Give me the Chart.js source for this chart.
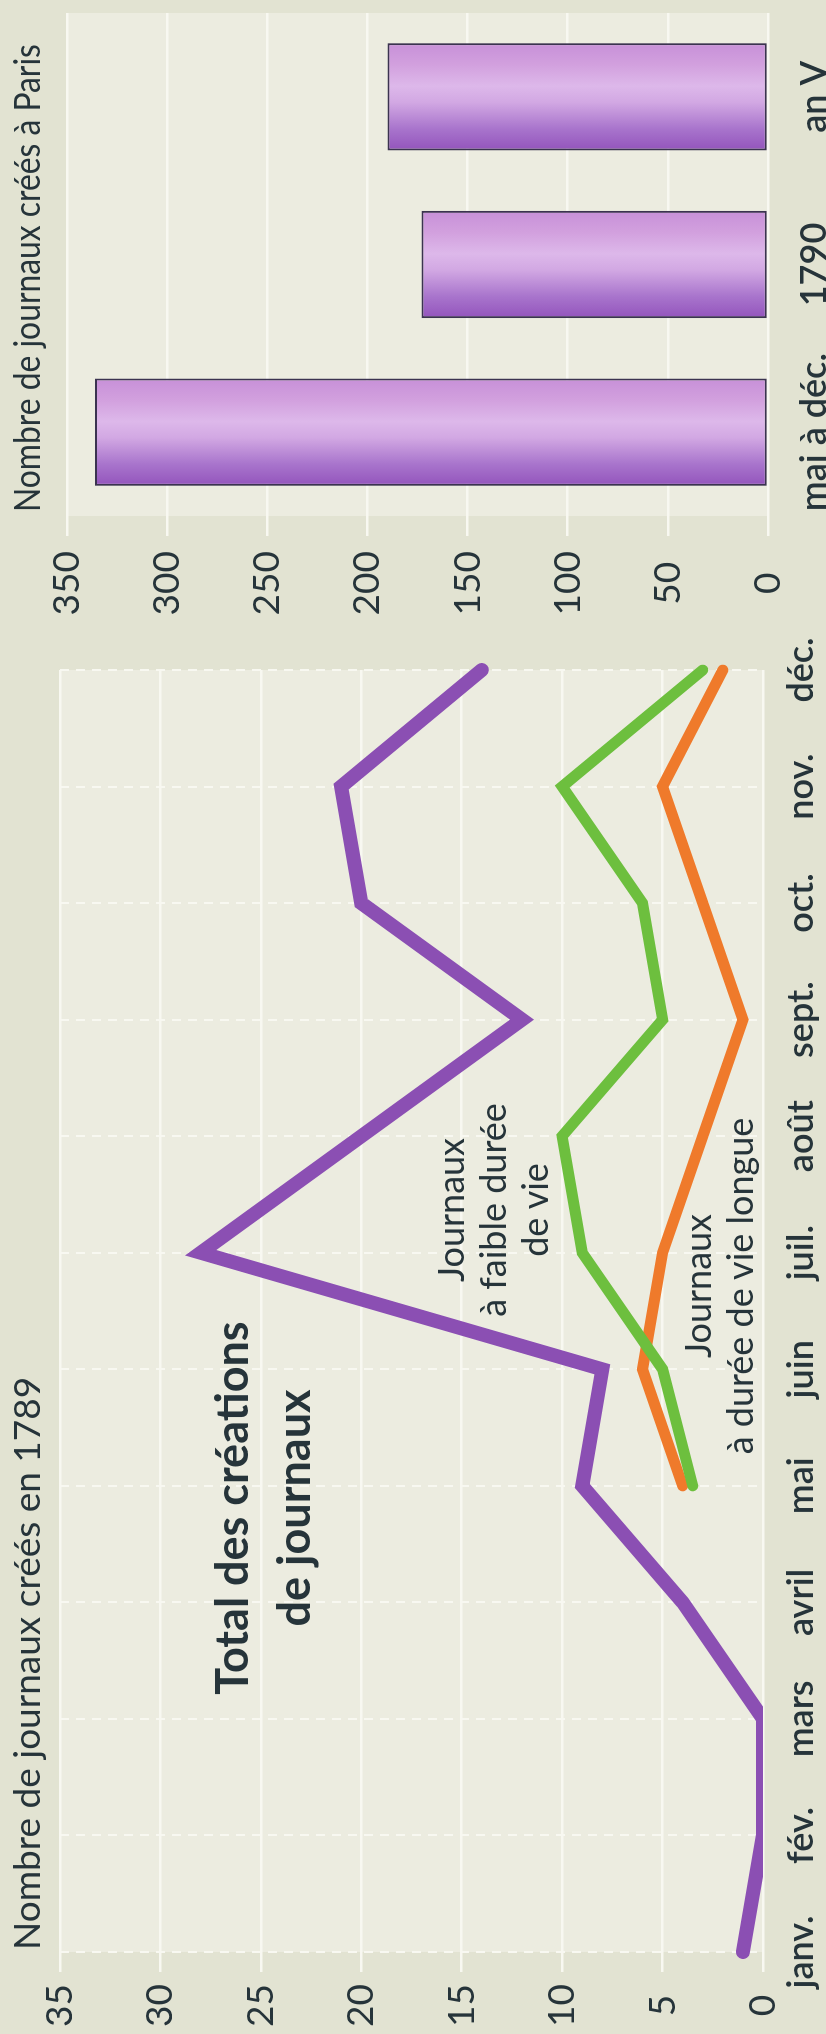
<!DOCTYPE html>
<html lang="fr">
<head>
<meta charset="utf-8">
<title>Journaux créés en 1789</title>
<script src="https://cdn.jsdelivr.net/npm/chart.js@4.4.1/dist/chart.umd.min.js"></script>
<style>
  html, body { margin: 0; padding: 0; }
  body {
    width: 826px; height: 2034px; overflow: hidden;
    background: #e2e3d2;
    font-family: Lato, 'Open Sans', sans-serif;
    color: #26343a;
  }
  /* the whole figure is laid out landscape, then turned a quarter to the left */
  #page {
    position: absolute; left: 0; top: 0;
    width: 2034px; height: 826px;
    transform-origin: 0 0;
    transform: translateY(2034px) rotate(-90deg);
  }
  canvas { position: absolute; top: 0; }
  #lineChart { left: 0; }
  #barChart { left: 1400px; }
  .txt { position: absolute; white-space: nowrap; }
  .title { font-size: 37px; line-height: 44px; top: 4px; }
  #t1 { left: 84px; }
  #t2 { left: 1522px; transform: scaleX(0.86); transform-origin: 0 0; }
  .note { text-align: center; }
  #n1 { font-weight: bold; font-size: 45px; line-height: 62px; width: 500px; left: 276px; top: 200px; }
  #n2 { font-size: 36px; line-height: 42px; width: 400px; left: 624px; top: 429px; }
  #n3 { font-size: 36px; line-height: 42px; width: 460px; left: 518px; top: 676px; }
</style>
</head>
<body>
<div id="page">
  <canvas id="lineChart" width="1420" height="826"></canvas>
  <canvas id="barChart" width="634" height="826"></canvas>
  <div class="txt title" id="t1">Nombre de journaux créés en 1789</div>
  <div class="txt title" id="t2">Nombre de journaux créés à Paris</div>
  <div class="txt note" id="n1">Total des créations<br>de journaux</div>
  <div class="txt note" id="n2">Journaux<br>à faible durée<br>de vie</div>
  <div class="txt note" id="n3">Journaux<br>à durée de vie longue</div>
</div>
<script>
// Values
const months = ['janv.', 'fév.', 'mars', 'avril', 'mai', 'juin', 'juil.', 'août', 'sept.', 'oct.', 'nov.', 'déc.'];
const totalCreations = [1, 0, 0, 4, 9, 8, 28, 20, 12, 20, 21, 14];
const faibleDuree = [null, null, null, null, 3.5, 5, 9, 10, 5, 6, 10, 3];
const dureeLongue = [null, null, null, null, 4, 6, 5, 3, 1, 3, 5, 2];
const lineTicks = [0, 5, 10, 15, 20, 25, 30, 35];

const periods = ['mai à déc.', '1790', 'an V'];
const parisCreations = [336, 173, 190];
const barTicks = [0, 50, 100, 150, 200, 250, 300, 350];

const inkColor = '#26343a';
const gridColor = '#f8f8f1';

Chart.defaults.font.family = "Lato, 'Open Sans', sans-serif";
Chart.defaults.color = inkColor;

// lighter panel behind each plot
const plotBackground = {
    id: 'plotBackground',
    beforeDraw(chart) {
        const { ctx, chartArea } = chart;
        ctx.save();
        ctx.fillStyle = '#ecece0';
        ctx.fillRect(chartArea.left, chartArea.top, chartArea.width, chartArea.height);
        ctx.restore();
    }
};

function useTicks(values) {
    return function (scale) {
        scale.ticks = values.map(v => ({ value: v }));
    };
}

// Line chart: newspapers created in 1789
new Chart(document.getElementById('lineChart'), {
    type: 'line',
    data: {
        labels: months,
        datasets: [
            { label: 'Total des créations de journaux', data: totalCreations, borderColor: '#8b4fb3', borderWidth: 14 },
            { label: 'Journaux à faible durée de vie', data: faibleDuree, borderColor: '#6dbf3e', borderWidth: 11 },
            { label: 'Journaux à durée de vie longue', data: dureeLongue, borderColor: '#ef7a2b', borderWidth: 11 }
        ]
    },
    options: {
        responsive: false,
        animation: false,
        devicePixelRatio: 1,
        events: [],
        layout: { padding: { top: 60, right: 56, left: 0, bottom: 0 } },
        elements: {
            point: { radius: 0 },
            line: { tension: 0, borderCapStyle: 'round', borderJoinStyle: 'miter', fill: false }
        },
        plugins: { legend: { display: false }, tooltip: { enabled: false } },
        scales: {
            x: {
                offset: false,
                grid: { color: gridColor, lineWidth: 2, drawTicks: false },
                border: { display: false, dash: [9, 7] },
                ticks: { font: { size: 36, weight: '600' }, padding: 17, autoSkip: false, maxRotation: 0 },
                afterFit(scale) { scale.height = 63; }
            },
            y: {
                min: 0,
                max: 35,
                afterBuildTicks: useTicks(lineTicks),
                grid: { color: gridColor, lineWidth: 2.5, tickLength: 20 },
                border: { display: false },
                ticks: { font: { size: 37 }, padding: 12, crossAlign: 'center' },
                afterFit(scale) { scale.width = 82; }
            }
        }
    },
    plugins: [plotBackground]
});

// Bar chart: newspapers created in Paris
function barFill(context) {
    const chart = context.chart;
    const xScale = chart.scales.x;
    if (!chart.chartArea || !xScale) {
        return '#c08ad6';
    }
    const center = xScale.getPixelForValue(context.dataIndex);
    const half = xScale.width / periods.length * 0.8 * 0.8 / 2;
    const gradient = chart.ctx.createLinearGradient(center - half, 0, center + half, 0);
    gradient.addColorStop(0, '#9354bc');
    gradient.addColorStop(0.2, '#a874cc');
    gradient.addColorStop(0.45, '#d2a8e3');
    gradient.addColorStop(0.6, '#ddb8ea');
    gradient.addColorStop(0.8, '#d2a0de');
    gradient.addColorStop(1, '#c790d8');
    return gradient;
}

new Chart(document.getElementById('barChart'), {
    type: 'bar',
    data: {
        labels: periods,
        datasets: [{
            label: 'Nombre de journaux créés à Paris',
            data: parisCreations,
            backgroundColor: barFill,
            borderColor: '#3b3350',
            borderWidth: 2,
            borderSkipped: false,
            categoryPercentage: 0.8,
            barPercentage: 0.8
        }]
    },
    options: {
        responsive: false,
        animation: false,
        devicePixelRatio: 1,
        events: [],
        layout: { padding: { top: 67, right: 13, left: 0, bottom: 0 } },
        plugins: { legend: { display: false }, tooltip: { enabled: false } },
        scales: {
            x: {
                grid: { display: false },
                border: { display: false },
                ticks: { font: { size: 36, weight: '600' }, padding: 17, maxRotation: 0 },
                afterFit(scale) { scale.height = 58; }
            },
            y: {
                min: 0,
                max: 350,
                afterBuildTicks: useTicks(barTicks),
                grid: { color: gridColor, lineWidth: 2.5, tickLength: 20 },
                border: { display: false },
                ticks: { font: { size: 37 }, padding: 15, crossAlign: 'center' },
                afterFit(scale) { scale.width = 118; }
            }
        }
    },
    plugins: [plotBackground]
});
</script>
</body>
</html>
